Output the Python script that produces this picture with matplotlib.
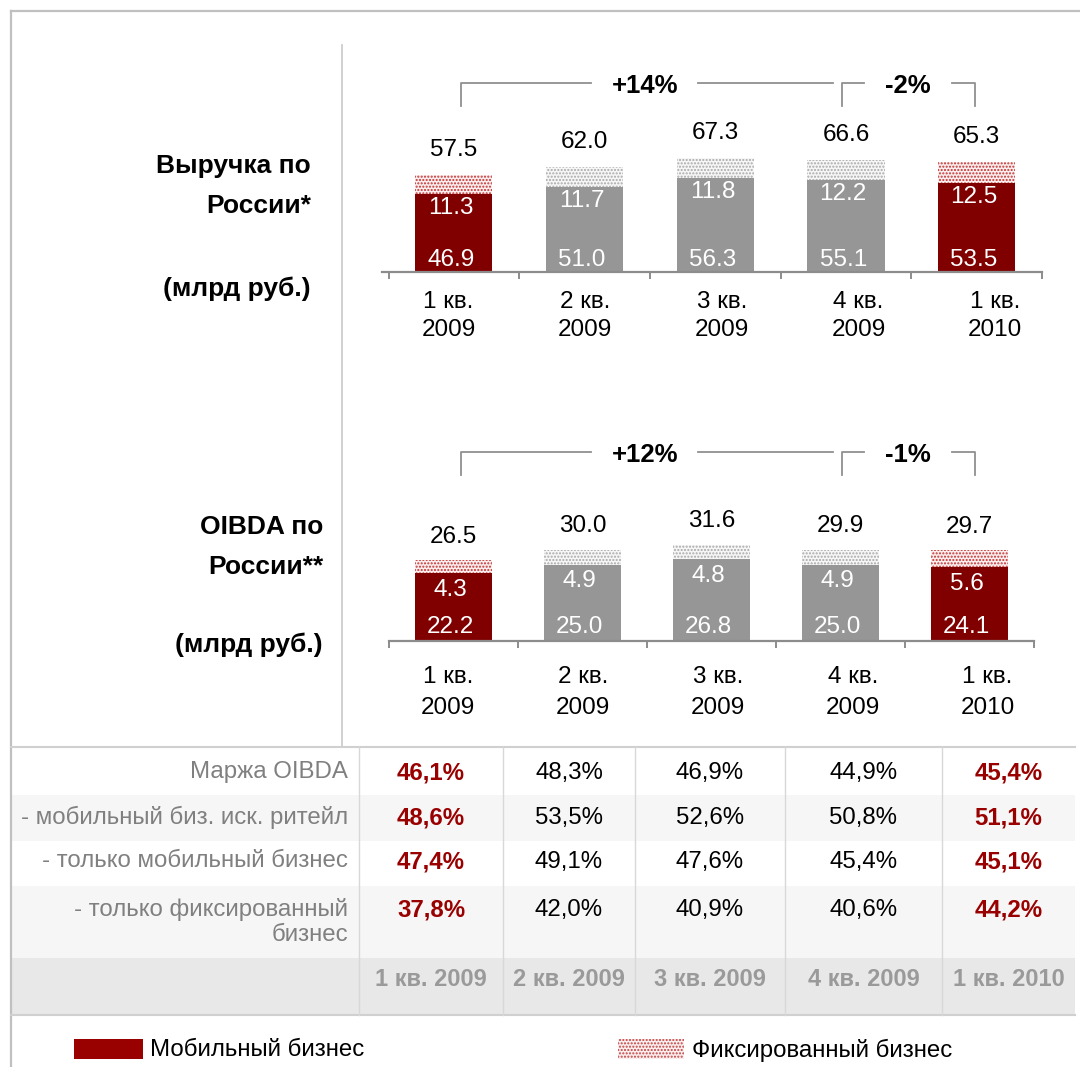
import numpy as np
import matplotlib
matplotlib.use("Agg")
import matplotlib.pyplot as plt
from matplotlib.patches import Rectangle
from matplotlib.transforms import ScaledTranslation

plt.rcParams['font.family'] = ['Liberation Sans', 'DejaVu Sans']
plt.rcParams['hatch.linewidth'] = 1.0

# ---- data ----
quarters = ['1 кв.\n2009', '2 кв.\n2009', '3 кв.\n2009', '4 кв.\n2009', '1 кв.\n2010']
quarters_short = ['1 кв. 2009', '2 кв. 2009', '3 кв. 2009', '4 кв. 2009', '1 кв. 2010']
highlight = [True, False, False, False, True]

rev_total = [57.5, 62.0, 67.3, 66.6, 65.3]
rev_mobile = [46.9, 51.0, 56.3, 55.1, 53.5]
rev_fixed = [11.3, 11.7, 11.8, 12.2, 12.5]

oibda_total = [26.5, 30.0, 31.6, 29.9, 29.7]
oibda_mobile = [22.2, 25.0, 26.8, 25.0, 24.1]
oibda_fixed = [4.3, 4.9, 4.8, 4.9, 5.6]

rev_change = ['+14%', '-2%']
oibda_change = ['+12%', '-1%']

row_labels = ['Маржа OIBDA', '- мобильный биз. иск. ритейл',
              '- только мобильный бизнес', '- только фиксированный\nбизнес']
margin_oibda = [46.1, 48.3, 46.9, 44.9, 45.4]
margin_mobile_ex_retail = [48.6, 53.5, 52.6, 50.8, 51.1]
margin_mobile = [47.4, 49.1, 47.6, 45.4, 45.1]
margin_fixed = [37.8, 42.0, 40.9, 40.6, 44.2]

RED = '#800000'
GRAY = '#969696'
LINE = '#8c8c8c'
W, H = 1080, 1067

fig = plt.figure(figsize=(W / 100, H / 100), dpi=100)

# background axes in pixel coordinates
bg = fig.add_axes([0, 0, 1, 1], zorder=0)
bg.set_xlim(0, W)
bg.set_ylim(H, 0)
bg.axis('off')


def fig_rect(left, top, right, bottom):
    return [left / W, 1 - bottom / H, (right - left) / W, (bottom - top) / H]


# frame lines
bg.plot([11, W], [11, 11], color='#c0c0c0', lw=1.6)
bg.plot([11, 11], [11, H], color='#c0c0c0', lw=1.6)
bg.plot([342, 342], [45, 747], color='#c8c8c8', lw=1.2)


def draw_chart(rect, total, mobile, fixed, ymax, xmin, top_off, fix_off, mob_off,
               cat_off, cat_ls):
    ax = fig.add_axes(rect, zorder=2)
    ax.patch.set_alpha(0)
    x = np.arange(len(total))
    colors = [RED if h else GRAY for h in highlight]
    dots = ['#c03030' if h else '#a8a8a8' for h in highlight]
    faces = ['#fbeeee' if h else '#f6f6f6' for h in highlight]
    ax.bar(x, mobile, width=0.59, color=colors, linewidth=0)
    ax.bar(x, fixed, width=0.59, bottom=mobile, facecolor=faces,
           edgecolor=dots, hatch='.....', linewidth=0)
    cat_tr = ax.transData + ScaledTranslation(0, -cat_off / 100, fig.dpi_scale_trans)
    for i in range(len(x)):
        top = mobile[i] + fixed[i]
        ax.annotate(f'{total[i]:.1f}', (x[i], top), xytext=(0, top_off),
                    textcoords='offset points', ha='center', va='center',
                    fontsize=17.5)
        ax.annotate(f'{fixed[i]:.1f}', (x[i], mobile[i]), xytext=(-2, -fix_off),
                    textcoords='offset points', ha='center', va='center',
                    fontsize=17.5, color='white')
        ax.annotate(f'{mobile[i]:.1f}', (x[i], 0), xytext=(-2, mob_off),
                    textcoords='offset points', ha='center', va='center',
                    fontsize=17.5, color='white')
        ax.text(i * 1.045 - 0.04, 0, quarters[i], ha='center', va='top',
                fontsize=17.5, linespacing=cat_ls, transform=cat_tr)
    ax.set_xlim(xmin, 4.5)
    ax.set_ylim(0, ymax)
    for s in ['top', 'left', 'right']:
        ax.spines[s].set_visible(False)
    ax.spines['bottom'].set_color(LINE)
    ax.spines['bottom'].set_linewidth(1.6)
    ax.set_yticks([])
    ax.set_xticks(np.arange(-0.5, 5, 1))
    ax.set_xticklabels([])
    ax.tick_params(axis='x', direction='out', length=5, width=1.4, color=LINE)
    return ax


ax1 = draw_chart(fig_rect(382, 40, 1042, 272), rev_total, rev_mobile, rev_fixed,
                 (272 - 40) / 1.67, -0.55, 18, 10, 9, 19, 1.33)
ax2 = draw_chart(fig_rect(389, 420, 1034, 641), oibda_total, oibda_mobile, oibda_fixed,
                 (641 - 420) / 3.05, -0.5, 17, 12, 10, 25, 1.55)


def bracket(y, yb, texts):
    kw = dict(color='#909090', lw=1.3)
    bg.plot([461, 461, 591], [yb, y, y], **kw)
    bg.plot([698, 833], [y, y], **kw)
    bg.plot([842, 842, 864], [yb, y, y], **kw)
    bg.plot([952, 975, 975], [y, y, yb], **kw)
    bg.text(645, y + 3, texts[0], ha='center', va='center', fontsize=18.5, fontweight='bold')
    bg.text(908, y + 3, texts[1], ha='center', va='center', fontsize=18.5, fontweight='bold')


bracket(83, 106, rev_change)
bracket(452, 475, oibda_change)

# left titles
lab = dict(ha='right', va='center', fontsize=19, fontweight='bold')
bg.text(311, 166, 'Выручка по', **lab)
bg.text(311, 206, 'России*', **lab)
bg.text(311, 289, '(млрд руб.)', **lab)
bg.text(323, 527, 'OIBDA по', **lab)
bg.text(323, 567, 'России**', **lab)
bg.text(323, 645, '(млрд руб.)', **lab)

# table
bands = [(747, 795, 'white'), (795, 841, '#f6f6f6'), (841, 886, 'white'),
         (886, 958, '#f6f6f6'), (958, 1015, '#e8e8e8')]
for top, bot, c in bands:
    bg.add_patch(Rectangle((11, top), 1064, bot - top, facecolor=c, edgecolor='none'))
bg.plot([11, 1075], [747, 747], color='#d0d0d0', lw=1.5)
bg.plot([11, 1075], [1015, 1015], color='#d0d0d0', lw=1.5)
col_edges = [359, 503, 635, 785, 942, 1075]
for cx in col_edges[:-1]:
    bg.plot([cx, cx], [747, 1015], color='#d8d8d8', lw=1)
col_centers = [(a + b) / 2 for a, b in zip(col_edges[:-1], col_edges[1:])]

row_y = [773, 818, 862, 910]
table_vals = [margin_oibda, margin_mobile_ex_retail, margin_mobile, margin_fixed]
for r, (label, vals) in enumerate(zip(row_labels, table_vals)):
    bg.text(348, row_y[r] - 12, label, ha='right', va='top', fontsize=17.3,
            color='#808080', linespacing=1.2)
    for c, v in enumerate(vals):
        s = f'{v:.1f}%'.replace('.', ',')
        if highlight[c]:
            bg.text(col_centers[c], row_y[r], s, ha='center', va='center',
                    fontsize=17.3, fontweight='bold', color='#990000')
        else:
            bg.text(col_centers[c], row_y[r], s, ha='center', va='center',
                    fontsize=17.3, color='black')
for c, q in enumerate(quarters_short):
    bg.text(col_centers[c], 980, q, ha='center', va='center', fontsize=17,
            fontweight='bold', color='#9a9a9a')

# legend
bg.add_patch(Rectangle((74, 1039), 69, 20, facecolor='#990000', edgecolor='none'))
bg.text(150, 1050, 'Мобильный бизнес', ha='left', va='center', fontsize=17.3)
bg.add_patch(Rectangle((618, 1039), 66, 20, facecolor='#fbeeee', edgecolor='#c04040',
                       hatch='.....', linewidth=0))
bg.text(692, 1050, 'Фиксированный бизнес', ha='left', va='center', fontsize=17.3)

fig.savefig('out.png', dpi=100)
